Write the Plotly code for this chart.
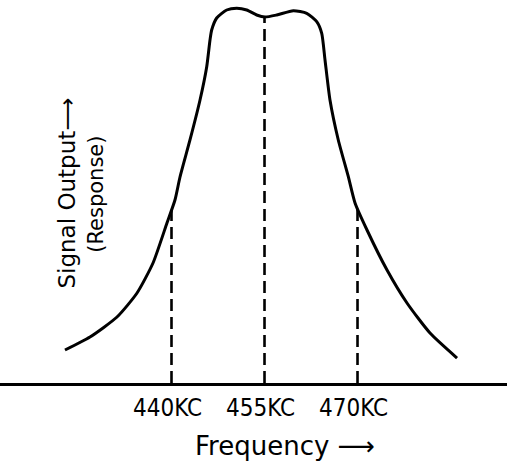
import plotly.graph_objects as go

# Response curve (frequency in KC, relative signal output)
freq = [422.82, 426.85, 431.21, 434.44, 437.02, 439.27, 440.56, 441.37, 442.98,
        444.60, 445.68, 446.21, 446.48, 447.29, 448.90, 450.52, 452.13, 453.74,
        455.08, 456.97, 459.65, 461.81, 463.42, 464.23, 464.76, 465.56, 466.90,
        468.52, 469.60, 471.53, 474.76, 477.98, 481.69, 486.05]
response = [8.85, 12.33, 17.69, 24.13, 32.17, 42.90, 49.06, 55.23, 65.15,
            75.87, 84.80, 91.96, 94.64, 97.86, 100.0, 100.46, 100.0, 98.66,
            98.12, 98.66, 99.81, 99.12, 96.86, 93.75, 86.60, 75.87, 65.15,
            55.31, 48.26, 41.02, 30.29, 21.45, 13.40, 6.70]

# Marked frequencies and the response height where each dashed line meets the curve
mark_freq = [440, 455, 470]
mark_resp = [46.4, 98.1, 46.8]
mark_labels = ["440KC", "455KC", "470KC"]

COND = "DejaVu Sans Condensed, DejaVu Sans, sans-serif"
SANS = "DejaVu Sans, sans-serif"

fig = go.Figure()
for f, r in zip(mark_freq, mark_resp):
    fig.add_trace(go.Scatter(x=[f, f], y=[0, r], mode="lines",
                             line=dict(color="black", width=2.6, dash="12px,6px"),
                             hoverinfo="skip", showlegend=False))
fig.add_trace(go.Scatter(x=freq, y=response, mode="lines",
                         line=dict(color="black", width=3, shape="spline", smoothing=0.6),
                         showlegend=False))

for f, lab in zip(mark_freq, mark_labels):
    fig.add_annotation(x=f, y=0, xref="x", yref="paper", text=lab, showarrow=False,
                       yanchor="top", yshift=-9, xshift=-4,
                       font=dict(family=COND, size=24, color="black"))

fig.add_annotation(x=0.562, y=0, xref="paper", yref="paper", text="Frequency ⟶",
                   showarrow=False, yanchor="top", yshift=-46,
                   font=dict(family=SANS, size=26, color="black"))
fig.add_annotation(x=0.132, y=0.497, xref="paper", yref="paper", text="Signal Output⟶",
                   showarrow=False, textangle=-90, xshift=-15,
                   font=dict(family=SANS, size=23, color="black"))
fig.add_annotation(x=0.189, y=0.4935, xref="paper", yref="paper", text="(Response)",
                   showarrow=False, textangle=-90, xshift=-14,
                   font=dict(family=SANS, size=21, color="black"))

fig.update_layout(
    width=507, height=462,
    margin=dict(l=0, r=0, t=0, b=79),
    plot_bgcolor="white", paper_bgcolor="white",
    xaxis=dict(range=[412.34, 494.11], showgrid=False, zeroline=False,
               showticklabels=False, ticks="", showline=True,
               linecolor="black", linewidth=2.6),
    yaxis=dict(range=[0, 102.68], showgrid=False, zeroline=False,
               showticklabels=False, ticks="", showline=False),
)
fig.write_html("out.html", config={"displayModeBar": False},
               post_script="document.body.style.margin='0';document.body.style.overflow='hidden';")
